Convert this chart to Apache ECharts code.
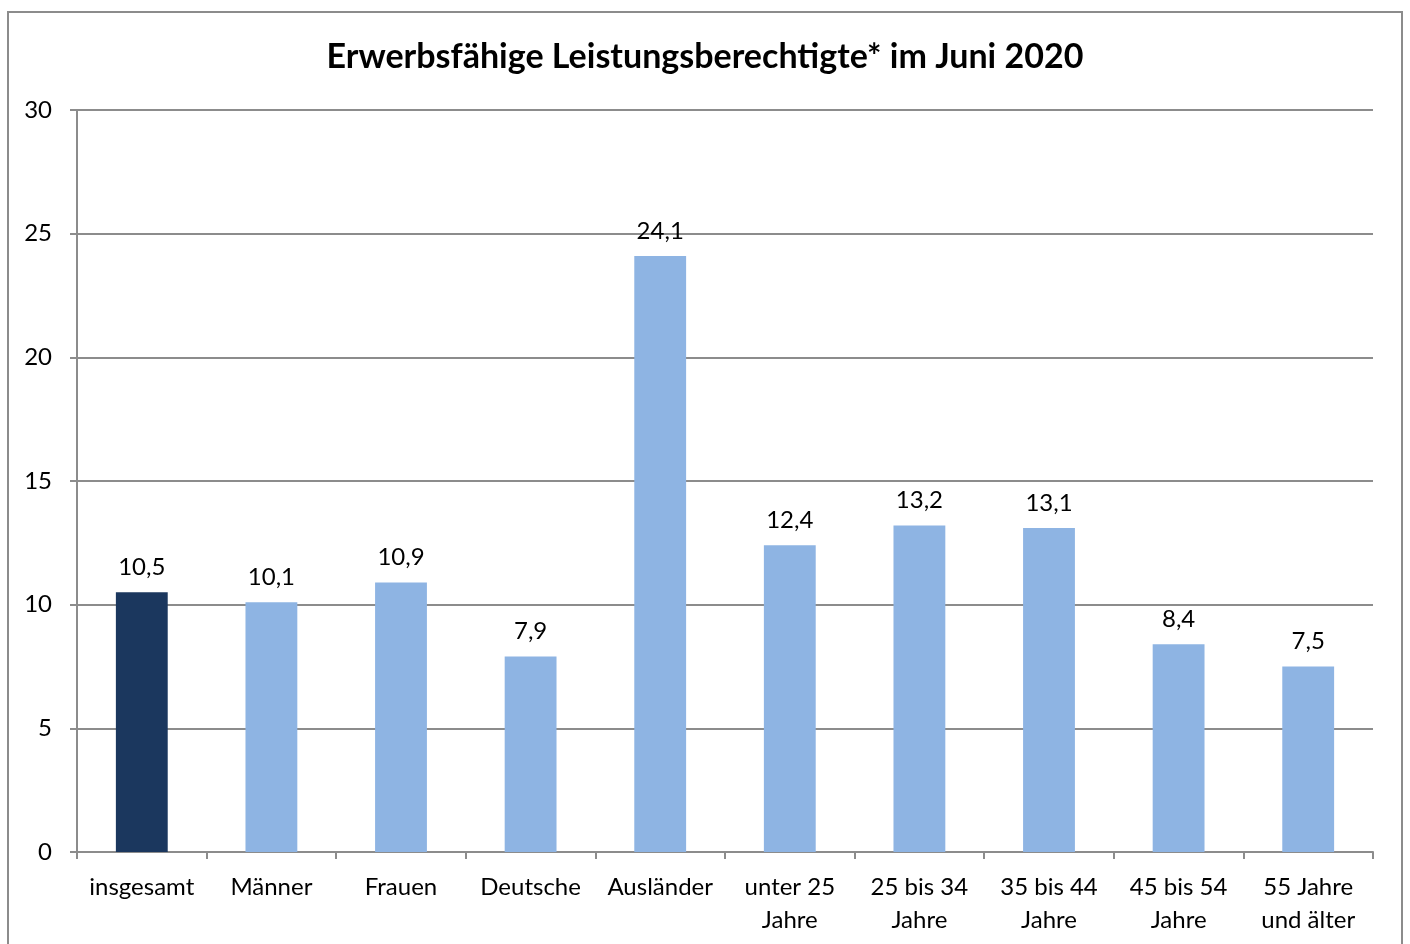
<!DOCTYPE html>
<html lang="de">
<head>
<meta charset="UTF-8">
<title>Erwerbsfähige Leistungsberechtigte</title>
<script src="https://cdn.jsdelivr.net/npm/echarts@6/dist/echarts.min.js"></script>
<style>
  html, body { margin: 0; padding: 0; background: #fff; }
  #chart { width: 1410px; height: 944px; }
</style>
</head>
<body>
<div id="chart"></div>
<script>
var categories = ['insgesamt', 'Männer', 'Frauen', 'Deutsche', 'Ausländer',
  'unter 25\nJahre', '25 bis 34\nJahre', '35 bis 44\nJahre', '45 bis 54\nJahre', '55 Jahre\nund älter'];
var values = [10.5, 10.1, 10.9, 7.9, 24.1, 12.4, 13.2, 13.1, 8.4, 7.5];
var highlightIndex = 0; // "insgesamt" dunkel

var font = 'Lato, "Open Sans", sans-serif';
var chart = echarts.init(document.getElementById('chart'));

chart.setOption({
  backgroundColor: '#fff',
  animation: false,
  title: {
    text: 'Erwerbsfähige Leistungsberechtigte* im Juni 2020',
    left: 'center',
    top: 35,
    textStyle: { fontFamily: font, fontSize: 34, fontWeight: 'bold', color: '#000' }
  },
  graphic: [{
    type: 'rect',
    shape: { x: 8, y: 12, width: 1394, height: 960 },
    style: { fill: 'none', stroke: '#8c8c8c', lineWidth: 2 },
    silent: true
  }],
  grid: { left: 77, right: 37, top: 110, bottom: 92 },
  xAxis: {
    type: 'category',
    data: categories,
    axisLine: { lineStyle: { color: '#8c8c8c', width: 2 } },
    axisTick: { show: true, length: 7, lineStyle: { color: '#8c8c8c', width: 2 } },
    axisLabel: {
      color: '#000', fontFamily: font, fontSize: 24, lineHeight: 33, margin: 19, interval: 0
    }
  },
  yAxis: {
    type: 'value',
    min: 0, max: 30, interval: 5,
    axisLine: { show: true, lineStyle: { color: '#8c8c8c', width: 2 } },
    axisTick: { show: true, length: 7, lineStyle: { color: '#8c8c8c', width: 2 } },
    splitLine: { lineStyle: { color: '#8c8c8c', width: 2 } },
    axisLabel: { color: '#000', fontFamily: font, fontSize: 24, margin: 25 }
  },
  series: [{
    type: 'bar',
    barWidth: '40%',
    data: values.map(function (v, i) {
      return { value: v, itemStyle: { color: i === highlightIndex ? '#1b375e' : '#8eb4e3' } };
    }),
    label: {
      show: true,
      position: 'top',
      distance: 13,
      color: '#000',
      fontFamily: font,
      fontSize: 24,
      formatter: function (p) { return String(p.value).replace('.', ','); }
    }
  }]
});
</script>
</body>
</html>
